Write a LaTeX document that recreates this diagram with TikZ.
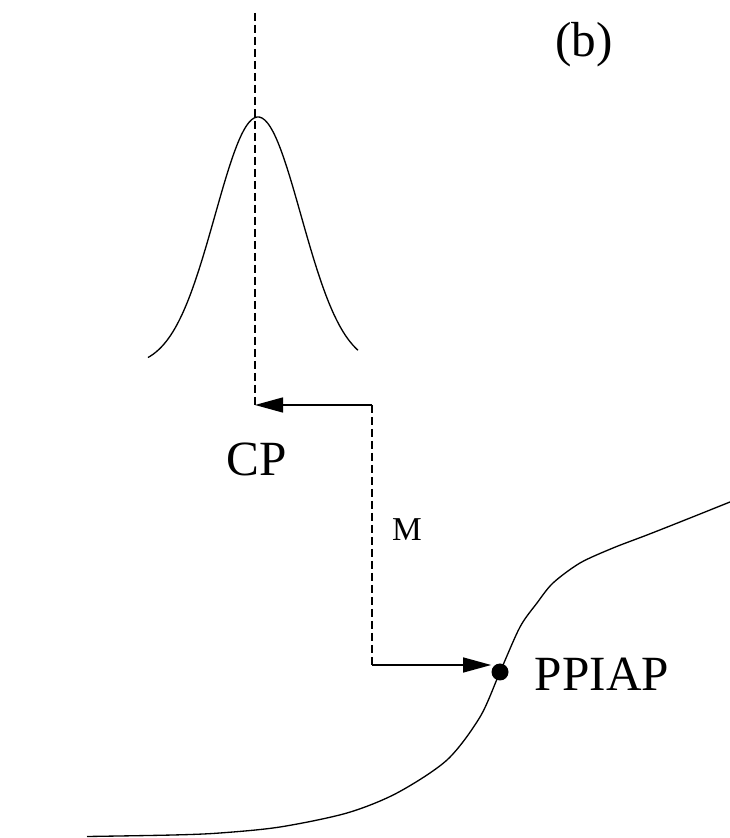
\documentclass[tikz,border=0pt]{standalone}
\usepackage{fontspec}
\setmainfont{Liberation Serif}
\usetikzlibrary{arrows.meta}

\begin{document}
\begin{tikzpicture}[>={Triangle[length=5.6mm,width=3mm]},
  guide/.style={line width=0.7pt, dash pattern=on 1.6mm off 0.8mm},
  flow/.style={->, line width=0.8pt},
  curve/.style={line width=0.75pt},
  bigtxt/.style={font=\fontsize{28}{30}\selectfont, inner sep=0pt},
  smalltxt/.style={font=\fontsize{19}{21}\selectfont, inner sep=0pt}]
  \useasboundingbox (0,0) rectangle (14.6,16.76);
  % panel label
  \node[bigtxt] (panel) at (11.68,15.87) {(b)};
  % the peak and its axis
  \draw[curve, domain=-2.2:2.0, samples=80, smooth]
    plot ({5.16+\x},{14.42-5*(1-exp(-\x*\x/1.479))});
  \coordinate (axistop) at (5.1,16.5);
  \coordinate (cp) at (5.1,8.66);
  \coordinate (bendtop) at (7.44,8.66);
  \coordinate (bendlow) at (7.44,3.46);
  \draw[guide] (axistop) -- (cp);
  \node[bigtxt] (cplabel) at (5.14,7.58) {CP};
  % the mapping M
  \draw[guide] (bendtop) -- (bendlow);
  \node[smalltxt] (mlabel) at (8.14,6.16) {M};
  % the S-shaped curve
  \draw[curve] plot[smooth] coordinates {(1.74,0.03) (3.46,0.06) (4.4,0.1)
    (5.6,0.22) (6.94,0.5) (7.94,0.9) (8.94,1.56) (9.6,2.42) (10.0,3.32)
    (10.4,4.22) (10.74,4.7) (11.06,5.1) (11.6,5.5) (12.26,5.8) (12.94,6.06)
    (13.6,6.32) (14.6,6.72)};
  \node[circle, fill, inner sep=0pt, minimum size=3.4mm] (dot) at (10.0,3.32) {};
  \node[bigtxt] (ppiap) at (12.04,3.28) {PPIAP};
  % arrows
  \draw[flow] (bendtop) -- (cp);
  \draw[flow] (bendlow) -- (bendlow -| dot.west);
\end{tikzpicture}
\end{document}
